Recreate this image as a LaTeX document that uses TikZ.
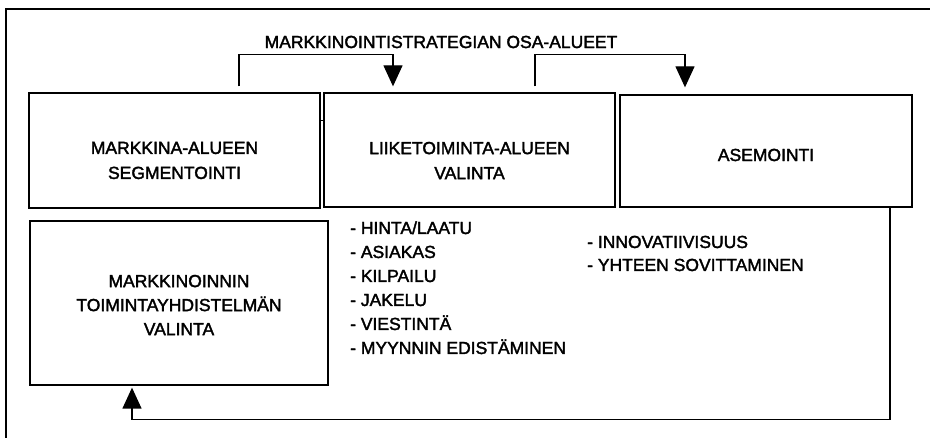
\documentclass[tikz,border=0pt]{standalone}
\usepackage{fontspec}
\setmainfont{Liberation Sans}[FakeBold=2]
\usetikzlibrary{arrows.meta}

\begin{document}
\begin{tikzpicture}[x=1pt,y=-1pt,
  box/.style={draw,line width=1.3pt,inner sep=0pt},
  txt/.style={font=\fontsize{17.5}{25}\selectfont,align=center,inner sep=0pt},
  item/.style={font=\fontsize{17.5}{24}\selectfont,anchor=base west,inner sep=0pt},
  flow/.style={line width=1.3pt,-{Triangle[length=21pt 0,width=19pt 0]}},
  link/.style={line width=1.3pt}]

\useasboundingbox (0,0) rectangle (930,438);

% frame (top and left edges only)
\draw[line width=2.4pt] (6,438) -- (6,9) -- (930,9);

% main boxes
\node[box,minimum width=291pt,minimum height=115pt] (b1) at (174.5,150.5) {};
\node[box,minimum width=291pt,minimum height=114pt] (b2) at (469.5,150) {};
\node[box,minimum width=292pt,minimum height=112pt] (b3) at (766,151) {};
\node[box,minimum width=298pt,minimum height=164pt] (b4) at (179,303) {};

% box texts
\node[txt] (b1t) at (174.5,160.5) {MARKKINA-ALUEEN\\SEGMENTOINTI};
\node[txt] (b2t) at (469.5,160.5) {LIIKETOIMINTA-ALUEEN\\VALINTA};
\node[txt] (b3t) at (766,155) {ASEMOINTI};
\node[txt,font=\fontsize{17.5}{24}\selectfont] (b4t) at (179,305) {MARKKINOINNIN\\TOIMINTAYHDISTELMÄN\\VALINTA};

% heading
\node[txt] (head) at (441,42) {MARKKINOINTISTRATEGIAN OSA-ALUEET};

% item lists
\node[item] (l1) at (350,234) {- HINTA/LAATU};
\node[item] (l2) at (350,258) {- ASIAKAS};
\node[item] (l3) at (350,282) {- KILPAILU};
\node[item] (l4) at (350,306) {- JAKELU};
\node[item] (l5) at (350,330) {- VIESTINTÄ};
\node[item] (l6) at (350,354) {- MYYNNIN EDISTÄMINEN};
\node[item] (r1) at (587,248) {- INNOVATIIVISUUS};
\node[item] (r2) at (587,271) {- YHTEEN SOVITTAMINEN};

% short joint between the first two boxes
\draw[link] ([yshift=-28pt]b1.north east) -- ([yshift=-28pt]b2.north west);

% flow arrows across the top
\draw[flow] ([shift={(64.5,-6)}]b1.north) |- ([shift={(-76.5,-38)}]b2.north)
            -- ([shift={(-76.5,-6)}]b2.north);
\draw[flow] ([shift={(65.5,-6)}]b2.north) |- ([shift={(-81,-40)}]b3.north)
            -- ([shift={(-81,-7)}]b3.north);

% feedback loop to the lower box
\draw[flow] ([xshift=124pt]b3.south) |- ([shift={(-47,34)}]b4.south)
            -- ([shift={(-47,2)}]b4.south);

\end{tikzpicture}
\end{document}
